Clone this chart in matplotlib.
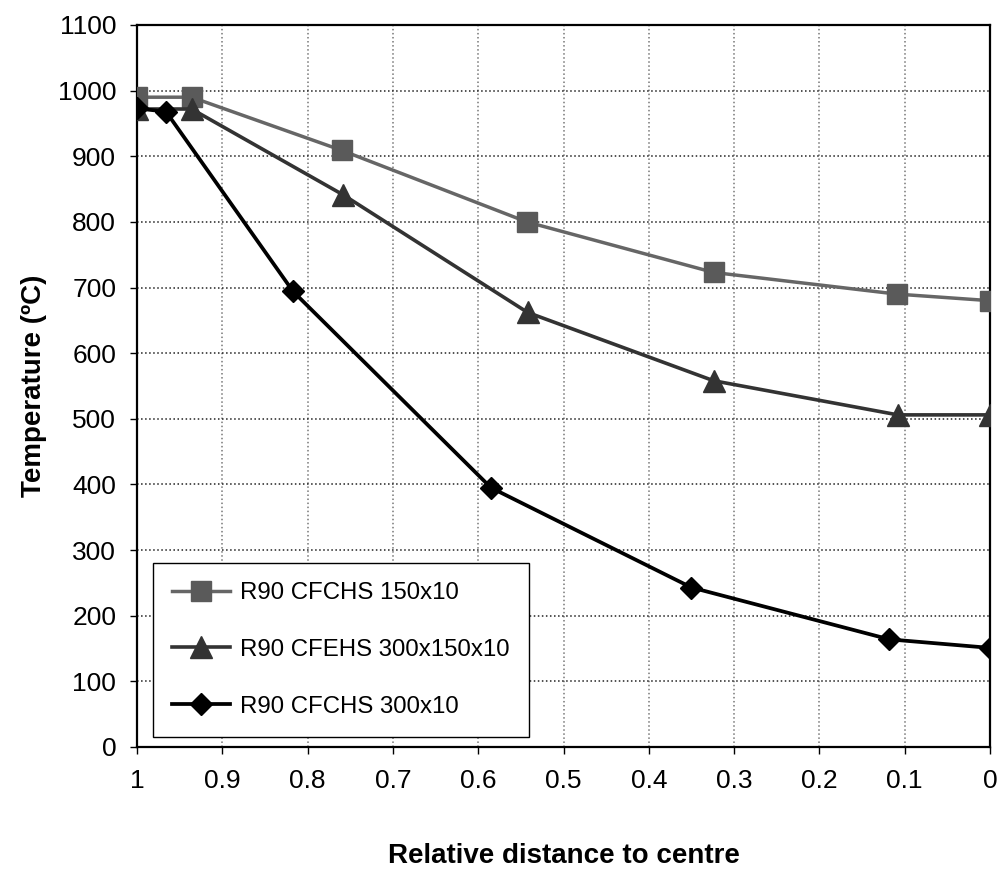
import matplotlib
matplotlib.use('Agg')
import matplotlib.pyplot as plt
import numpy as np

plt.rcParams['font.family'] = ['Liberation Sans', 'DejaVu Sans']

# data
x_sq = [1, 0.936, 0.76, 0.543, 0.324, 0.109, 0]
y_sq = [990, 990, 909, 800, 723, 690, 680]

x_tri = [1, 0.936, 0.758, 0.542, 0.324, 0.108, 0]
y_tri = [972, 972, 841, 662, 558, 506, 506]

x_dia = [1, 0.966, 0.817, 0.585, 0.35, 0.118, 0]
y_dia = [973, 968, 694, 395, 243, 164, 151]

labels = ['R90 CFCHS 150x10', 'R90 CFEHS 300x150x10', 'R90 CFCHS 300x10']
x_ticks = [1, 0.9, 0.8, 0.7, 0.6, 0.5, 0.4, 0.3, 0.2, 0.1, 0]
x_ticklabels = ['1', '0.9', '0.8', '0.7', '0.6', '0.5', '0.4', '0.3', '0.2', '0.1', '0']

fig = plt.figure(figsize=(10.03, 8.75), dpi=100)
ax = fig.add_axes([137/1003, 1-747/875, (990-137)/1003, (747-25)/875])

# three series
ax.plot(x_sq, y_sq, color='#666666', lw=2.5, marker='s', ms=14,
        mfc='#5a5a5a', mec='#5a5a5a', label=labels[0], zorder=3)
ax.plot(x_tri, y_tri, color='#333333', lw=2.6, marker='^', ms=16,
        mfc='#333333', mec='#333333', label=labels[1], zorder=4)
ax.plot(x_dia, y_dia, color='#000000', lw=2.7, marker='D', ms=11,
        mfc='#000000', mec='#000000', label=labels[2], zorder=5)

# axes: x runs from 1 down to 0
ax.set_xlim(1, 0)
ax.set_ylim(0, 1100)
ax.set_xticks(x_ticks)
ax.set_xticklabels(x_ticklabels)
ax.set_yticks(np.arange(0, 1101, 100))
ax.tick_params(axis='both', labelsize=19, direction='out', length=5, width=1)
ax.tick_params(axis='x', pad=11)
ax.tick_params(axis='y', pad=10)

# gridlines: dotted
ax.xaxis.grid(True, linestyle=':', color='#777777', lw=1.1)
ax.yaxis.grid(True, linestyle=':', color='#222222', lw=1.1)
ax.set_axisbelow(True)

for s in ax.spines.values():
    s.set_color('black')
    s.set_linewidth(1.6)

ax.set_xlabel('Relative distance to centre', fontsize=20, fontweight='bold', labelpad=36)
ax.set_ylabel('Temperature (ºC)', fontsize=20, fontweight='bold', labelpad=8)

leg = ax.legend(loc='lower left', bbox_to_anchor=(0.019, 0.014), fontsize=17.3,
                handlelength=2.4, labelspacing=1.45, borderpad=0.8,
                fancybox=False, framealpha=1, edgecolor='black',
                borderaxespad=0, handletextpad=0.4)
leg.get_frame().set_linewidth(1.0)

fig.savefig('out.png', dpi=100)
